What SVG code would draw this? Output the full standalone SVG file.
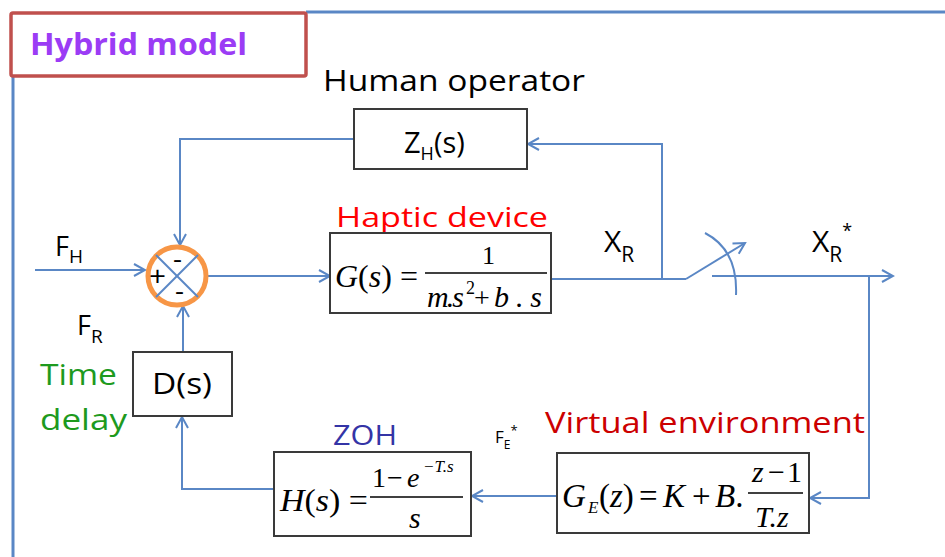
<svg xmlns="http://www.w3.org/2000/svg" width="945" height="557" viewBox="0 0 945 557">
<style>
.wire{fill:none;stroke:#5a87c5;stroke-width:2}
.box{fill:#fff;stroke:#3a3a3a;stroke-width:2}
.lbl{font-family:"Open Sans","Liberation Sans",sans-serif;fill:#000}
.m{font-family:"Liberation Serif","Times New Roman",serif;fill:#000}
.i{font-style:italic}
.frac{stroke:#000;stroke-width:1.4}
</style>
<defs>
<marker id="ah" markerUnits="userSpaceOnUse" markerWidth="14" markerHeight="14" refX="12" refY="7" orient="auto" viewBox="0 0 14 14">
<path d="M1,1 L12,7 L1,13" fill="none" stroke="#5a87c5" stroke-width="2"/>
</marker>
</defs>
<rect width="945" height="557" fill="#fff"/>
<g id="frame">
<line x1="306" y1="12" x2="945" y2="12" stroke="#5a87c5" stroke-width="3"/>
<line x1="13" y1="76" x2="13" y2="557" stroke="#5a87c5" stroke-width="3"/>
<rect x="11" y="13" width="295" height="63" rx="2" fill="#fff" stroke="#c0504d" stroke-width="3.5"/>
<text x="30" y="55" class="lbl" font-weight="bold" font-size="30" style="fill:#9b3cf5" textLength="217" lengthAdjust="spacingAndGlyphs">Hybrid model</text>
</g>
<g id="connectors">
<path class="wire" d="M35,270 L145,270" marker-end="url(#ah)"/>
<path class="wire" d="M207,276 L330,276" marker-end="url(#ah)"/>
<path class="wire" d="M551,279 L686,279"/>
<path class="wire" d="M686,279 L745,243" marker-end="url(#ah)"/>
<path class="wire" d="M705,233 Q738,250 736,295"/>
<path class="wire" d="M712,276 L893,276" marker-end="url(#ah)"/>
<path class="wire" d="M662,279 L662,144 L528,144" marker-end="url(#ah)"/>
<path class="wire" d="M354,139 L180,139 L180,245" marker-end="url(#ah)"/>
<path class="wire" d="M869,276 L869,498 L810,498" marker-end="url(#ah)"/>
<path class="wire" d="M557,496 L472,496" marker-end="url(#ah)"/>
<path class="wire" d="M274,489 L182,489 L182,417" marker-end="url(#ah)"/>
<path class="wire" d="M183,352 L183,306" marker-end="url(#ah)"/>
</g>
<g id="sum">
<circle cx="177" cy="276" r="29" fill="#fff" stroke="#f79646" stroke-width="5"/>
<line x1="156" y1="255" x2="198" y2="297" stroke="#5a87c5" stroke-width="2"/>
<line x1="198" y1="255" x2="156" y2="297" stroke="#5a87c5" stroke-width="2"/>
<text x="149" y="286" class="lbl" font-size="28" textLength="17" lengthAdjust="spacingAndGlyphs">+</text>
<text x="173" y="268" class="lbl" font-size="26" textLength="9" lengthAdjust="spacingAndGlyphs">-</text>
<text x="175" y="300" class="lbl" font-size="26" textLength="9" lengthAdjust="spacingAndGlyphs">-</text>
</g>
<g id="labels">
<text x="55" y="256" class="lbl" font-size="27">F<tspan font-size="19" dy="7">H</tspan></text>
<text x="77" y="335" class="lbl" font-size="27">F<tspan font-size="19" dy="8">R</tspan></text>
<text x="40" y="385" class="lbl" font-size="30" style="fill:#1e9a1e" textLength="77" lengthAdjust="spacingAndGlyphs">Time</text>
<text x="40" y="430" class="lbl" font-size="30" style="fill:#1e9a1e" textLength="87" lengthAdjust="spacingAndGlyphs">delay</text>
<text x="323" y="91" class="lbl" font-size="29" textLength="262" lengthAdjust="spacingAndGlyphs">Human operator</text>
<text x="336" y="227" class="lbl" font-size="28" style="fill:#ff0000" textLength="212" lengthAdjust="spacingAndGlyphs">Haptic device</text>
<text x="604" y="252" class="lbl" font-size="30">X<tspan font-size="21" dy="10">R</tspan></text>
<text x="812" y="252" class="lbl" font-size="30">X<tspan font-size="21" dy="10">R</tspan><tspan font-size="18" dy="-25">*</tspan></text>
<text x="333" y="445" class="lbl" font-size="28" style="fill:#3434a6" textLength="64" lengthAdjust="spacingAndGlyphs">ZOH</text>
<text x="495" y="443" class="lbl" font-size="17">F<tspan font-size="12" dy="6">E</tspan><tspan font-size="13" dy="-14">*</tspan></text>
<text x="545" y="433" class="lbl" font-size="29" style="fill:#cc0000" textLength="320" lengthAdjust="spacingAndGlyphs">Virtual environment</text>
</g>
<g id="ZH">
<rect x="354" y="109" width="173" height="60" class="box"/>
<text x="404" y="153" class="lbl" font-size="29">Z<tspan font-size="18" dy="7">H</tspan><tspan dy="-7">(s)</tspan></text>
</g>
<g id="G">
<rect x="330" y="233" width="221" height="80" class="box"/>
<text x="335" y="287" class="m" font-size="32"><tspan class="i">G</tspan>(<tspan class="i">s</tspan>) =</text>
<text x="482" y="264" class="m" font-size="26">1</text>
<line x1="425" y1="273" x2="547" y2="273" class="frac"/>
<text x="427" y="307" class="m i" font-size="30" textLength="37" lengthAdjust="spacing">m.s</text>
<text x="466" y="294" class="m" font-size="18">2</text>
<text x="474" y="307" class="m" font-size="28">+</text>
<text x="494" y="307" class="m i" font-size="30" textLength="48" lengthAdjust="spacing">b.s</text>
</g>
<g id="D">
<rect x="133" y="352" width="99" height="64" class="box"/>
<text x="152" y="394" class="lbl" font-size="30" textLength="60" lengthAdjust="spacingAndGlyphs">D(s)</text>
</g>
<g id="H">
<rect x="274" y="452" width="197" height="84" class="box"/>
<text x="280" y="511" class="m" font-size="31" textLength="88" lengthAdjust="spacingAndGlyphs"><tspan class="i">H</tspan>(<tspan class="i">s</tspan>) =</text>
<line x1="370" y1="497" x2="463" y2="497" class="frac"/>
<text x="372" y="487" class="m" font-size="28">1</text>
<text x="387" y="487" class="m" font-size="28">−</text>
<text x="407" y="487" class="m i" font-size="28">e</text>
<text x="423" y="472" class="m i" font-size="17">−T.s</text>
<text x="409" y="528" class="m i" font-size="30">s</text>
</g>
<g id="GE">
<rect x="557" y="453" width="252" height="80" class="box"/>
<text x="562" y="507" class="m i" font-size="33">G</text>
<text x="588" y="513" class="m i" font-size="17">E</text>
<text x="599" y="507" class="m" font-size="33">(<tspan class="i">z</tspan>)</text>
<text x="639" y="507" class="m" font-size="33">=</text>
<text x="663" y="507" class="m i" font-size="33">K</text>
<text x="692" y="507" class="m" font-size="33">+</text>
<text x="715" y="507" class="m i" font-size="33">B<tspan font-style="normal">.</tspan></text>
<line x1="748" y1="493" x2="803" y2="493" class="frac"/>
<text x="752" y="482" class="m i" font-size="30">z</text>
<text x="768" y="482" class="m" font-size="30">−</text>
<text x="787" y="482" class="m" font-size="30">1</text>
<text x="755" y="527" class="m i" font-size="30">T.z</text>
</g>
</svg>
